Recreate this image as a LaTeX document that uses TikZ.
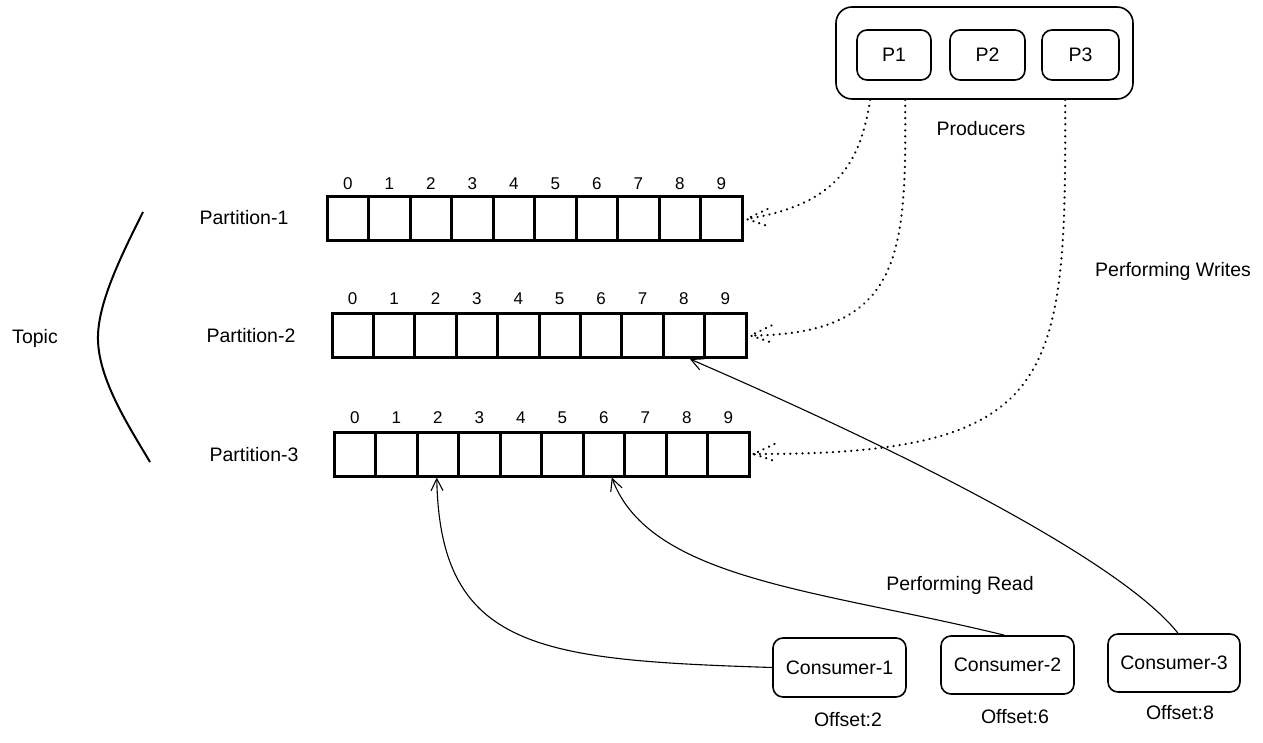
\documentclass[tikz,border=0pt]{standalone}
\usepackage{fontspec}
\setmainfont{Liberation Sans}
\usetikzlibrary{arrows.meta,calc}
\begin{document}
\begin{tikzpicture}[x=1pt,y=-1pt,
  lbl/.style={font=\fontsize{19.5}{22}\selectfont, inner sep=0pt},
  num/.style={font=\fontsize{17}{19}\selectfont, inner sep=0pt},
  cell/.style={draw, line width=3pt, minimum height=44pt, inner sep=0pt},
  rbox/.style={draw, line width=1.6pt, rounded corners=10pt, inner sep=0pt, font=\fontsize{19.5}{22}\selectfont},
  write/.style={line width=2.4pt, dash pattern=on 0.1pt off 6pt, line cap=round},
  read/.style={line width=1.1pt, -{Straight Barb[length=12pt,width=12pt,line width=1.1pt]}}
]
\useasboundingbox (0,0) rectangle (1263,743);

% producers
\node[rbox, rounded corners=16pt, minimum width=297pt, minimum height=92pt] (prod) at (984.5,53) {};
\node[rbox, minimum width=74pt, minimum height=50pt] (P1) at (894,55) {P1};
\node[rbox, minimum width=75pt, minimum height=50pt] (P2) at (987.5,55) {P2};
\node[rbox, minimum width=77pt, minimum height=50pt] (P3) at (1080.5,55) {P3};
\node[lbl] (prodl) at (981,129) {Producers};

% partitions
\foreach \i in {0,...,9} {
  \node[cell, minimum width=41.5pt] (a\i) at ({327+41.5*\i+20.75},219) {};
  \node[num] at ({327+41.5*\i+20.75},184) {\i};
  \node[cell, minimum width=41.4pt] (b\i) at ({332+41.4*\i+20.7},335.5) {};
  \node[num] at ({332+41.4*\i+20.7},299) {\i};
  \node[cell, minimum width=41.5pt] (c\i) at ({334+41.5*\i+20.75},454) {};
  \node[num] at ({334+41.5*\i+20.75},418) {\i};
}
\node[lbl] (l1) at (244,218) {Partition-1};
\node[lbl] (l2) at (251,336) {Partition-2};
\node[lbl] (l3) at (254,455) {Partition-3};

% topic
\node[lbl] (topic) at (35,338) {Topic};
\draw[line width=2pt] (143,212) .. controls (120,258) and (97,305) .. (98,340)
  .. controls (99,380) and (128,425) .. (150,462);

% writes
\coordinate (w1) at ([xshift=35pt]prod.south west);
\coordinate (w2) at ([xshift=70pt]prod.south west);
\coordinate (w3) at ([xshift=230pt]prod.south west);
\coordinate (e1) at ([xshift=3pt]a9.east);
\coordinate (e2) at ([xshift=3pt]b9.east);
\coordinate (e3) at ([xshift=3pt]c9.east);
\draw[write] (w1) .. controls (860,165) and (835,205) .. (e1);
\draw[write] (w2) .. controls (906,250) and (905,335) .. (e2);
\draw[write] (w3) .. controls (1066,380) and (1060,455) .. (e3);
\foreach \e in {e1,e2,e3}
  \draw[write] ($(\e)+(21,-10)$) -- (\e) -- ($(\e)+(24,8)$);
\node[lbl] (pw) at (1173,271) {Performing Writes};

% consumers
\node[rbox, minimum width=133pt, minimum height=59pt] (k1) at (839.5,667.5) {Consumer-1};
\node[rbox, minimum width=133pt, minimum height=58pt] (k2) at (1007.5,665) {Consumer-2};
\node[rbox, minimum width=132pt, minimum height=58pt] (k3) at (1174,663) {Consumer-3};
\node[lbl] (o1) at (848,720) {Offset:2};
\node[lbl] (o2) at (1015,717) {Offset:6};
\node[lbl] (o3) at (1180,713) {Offset:8};

% reads
\draw[read] (k1.west) .. controls (540,660) and (440,650) .. ([xshift=-1pt]c2.south);
\draw[read] ([xshift=-3pt]k2.north) .. controls (820,590) and (650,580) .. ([xshift=8pt]c6.south);
\draw[read] ([xshift=4pt]k3.north) .. controls (1120,560) and (900,450) .. ([xshift=6pt]b8.south);
\node[lbl] (pr) at (960,585) {Performing Read};
\end{tikzpicture}
\end{document}
